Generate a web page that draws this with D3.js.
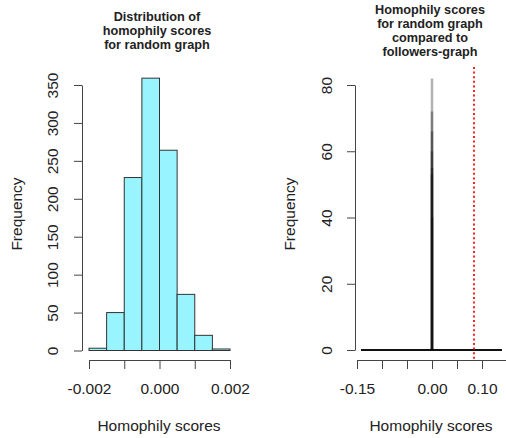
<!DOCTYPE html>
<html>
<head>
<meta charset="utf-8">
<script src="https://cdn.jsdelivr.net/npm/d3@7"></script>
<style>
  body { margin: 0; background: #fff; }
  svg { display: block; font-family: "Liberation Sans", Arial, sans-serif; }
</style>
</head>
<body>
<div id="chart"></div>
<script>
// left histogram: random graph homophily scores
const binEdges = [-0.002, -0.0015, -0.001, -0.0005, 0, 0.0005, 0.001, 0.0015, 0.002];
const binCounts = [3, 50, 228, 359, 264, 74, 20, 2];
const leftXTicks = [-0.002, -0.001, 0, 0.001, 0.002];
const leftXLabels = ["-0.002", "", "0.000", "", "0.002"];
const leftYTicks = [0, 50, 100, 150, 200, 250, 300, 350];

// right histogram: same scores on a wide range, plus followers-graph score
const spikeBins = [-0.0003, -0.0002, -0.0001, 0, 0.0001, 0.0002, 0.0003];
const spikeCounts = [53, 60, 72, 82, 66, 55, 40];
const emptyBinRange = [-0.142, 0.14];
const followersScore = 0.084;
const rightXTicks = [-0.15, -0.10, -0.05, 0, 0.05, 0.10, 0.15];
const rightXLabels = ["-0.15", "", "", "0.00", "", "0.10", ""];
const rightYTicks = [0, 20, 40, 60, 80];

const leftTitle = ["Distribution of", "homophily scores", "for random graph"];
const rightTitle = ["Homophily scores", "for random graph", "compared to", "followers-graph"];

const W = 506, H = 438;
const svg = d3.select("#chart").append("svg")
    .attr("width", W)
    .attr("height", H);

function styleAxis(g) {
    g.select(".domain").attr("stroke", "#444");
    g.selectAll(".tick line").attr("stroke", "#444");
    g.selectAll("text").attr("fill", "#222").style("font-size", "15.5px");
}

function title(lines, cx, y0) {
    const t = svg.append("text")
        .attr("text-anchor", "middle")
        .attr("fill", "#222")
        .style("font-size", "12.7px")
        .style("font-weight", "bold");
    lines.forEach((s, i) => {
        t.append("tspan").attr("x", cx).attr("y", y0 + i * 14).text(s);
    });
}

function yLabel(cx) {
    svg.append("text")
        .attr("transform", `translate(${cx},214) rotate(-90)`)
        .attr("text-anchor", "middle")
        .attr("fill", "#222")
        .style("font-size", "15.5px")
        .text("Frequency");
}

function xLabel(cx) {
    svg.append("text")
        .attr("x", cx)
        .attr("y", 431)
        .attr("text-anchor", "middle")
        .attr("fill", "#222")
        .style("font-size", "15.5px")
        .text("Homophily scores");
}

// ---------- left panel ----------
const x1 = d3.scaleLinear().domain([-0.002, 0.002]).range([89, 230]);
const y1 = d3.scaleLinear().domain([0, 350]).range([350.5, 85]);

svg.append("g").selectAll("rect")
    .data(binCounts)
    .enter()
    .append("rect")
    .attr("x", (d, i) => x1(binEdges[i]))
    .attr("width", (d, i) => x1(binEdges[i + 1]) - x1(binEdges[i]))
    .attr("y", d => y1(d))
    .attr("height", d => y1(0) - y1(d))
    .attr("fill", "#98F5FF")
    .attr("stroke", "#333")
    .attr("stroke-width", 1);

svg.append("g")
    .attr("transform", "translate(0,360)")
    .call(d3.axisBottom(x1).tickValues(leftXTicks).tickSize(9).tickSizeOuter(0)
        .tickFormat((d, i) => leftXLabels[i]))
    .call(styleAxis)
    .call(g => g.selectAll("text").attr("y", 23));

svg.append("g")
    .attr("transform", "translate(82,0)")
    .call(d3.axisLeft(y1).tickValues(leftYTicks).tickSize(8).tickSizeOuter(0))
    .call(styleAxis)
    .call(g => g.selectAll("text")
        .attr("x", 0).attr("dy", 0)
        .attr("text-anchor", "middle")
        .attr("transform", "translate(-24,0) rotate(-90)"));

title(leftTitle, 157, 20.5);
yLabel(22);
xLabel(159);

// ---------- right panel ----------
const x2 = d3.scaleLinear().domain([-0.15, 0.15]).range([357, 507]);
const y2 = d3.scaleLinear().domain([0, 80]).range([350, 85]);

// empty bins show up as a flat line on zero
svg.append("line")
    .attr("x1", x2(emptyBinRange[0]))
    .attr("x2", x2(emptyBinRange[1]))
    .attr("y1", y2(0))
    .attr("y2", y2(0))
    .attr("stroke", "#111")
    .attr("stroke-width", 2);

// narrow bins all land on the same pixel column
svg.append("g").selectAll("line")
    .data(spikeCounts)
    .enter()
    .append("line")
    .attr("x1", (d, i) => x2(spikeBins[i]))
    .attr("x2", (d, i) => x2(spikeBins[i]))
    .attr("y1", y2(0))
    .attr("y2", d => y2(d))
    .attr("stroke", "#000")
    .attr("stroke-opacity", 0.3)
    .attr("stroke-width", 2.5);

svg.append("line")
    .attr("x1", x2(followersScore))
    .attr("x2", x2(followersScore))
    .attr("y1", 67)
    .attr("y2", 360)
    .attr("stroke", "#f22")
    .attr("stroke-width", 2)
    .attr("stroke-dasharray", "2,2.6");

svg.append("g")
    .attr("transform", "translate(0,360)")
    .call(d3.axisBottom(x2).tickValues(rightXTicks).tickSize(9).tickSizeOuter(0)
        .tickFormat((d, i) => rightXLabels[i]))
    .call(styleAxis)
    .call(g => g.selectAll("text").attr("y", 23));

svg.append("g")
    .attr("transform", "translate(355,0)")
    .call(d3.axisLeft(y2).tickValues(rightYTicks).tickSize(8).tickSizeOuter(0))
    .call(styleAxis)
    .call(g => g.selectAll("text")
        .attr("x", 0).attr("dy", 0)
        .attr("text-anchor", "middle")
        .attr("transform", "translate(-23,0) rotate(-90)"));

title(rightTitle, 430, 13.5);
yLabel(295);
xLabel(431);
</script>
</body>
</html>
